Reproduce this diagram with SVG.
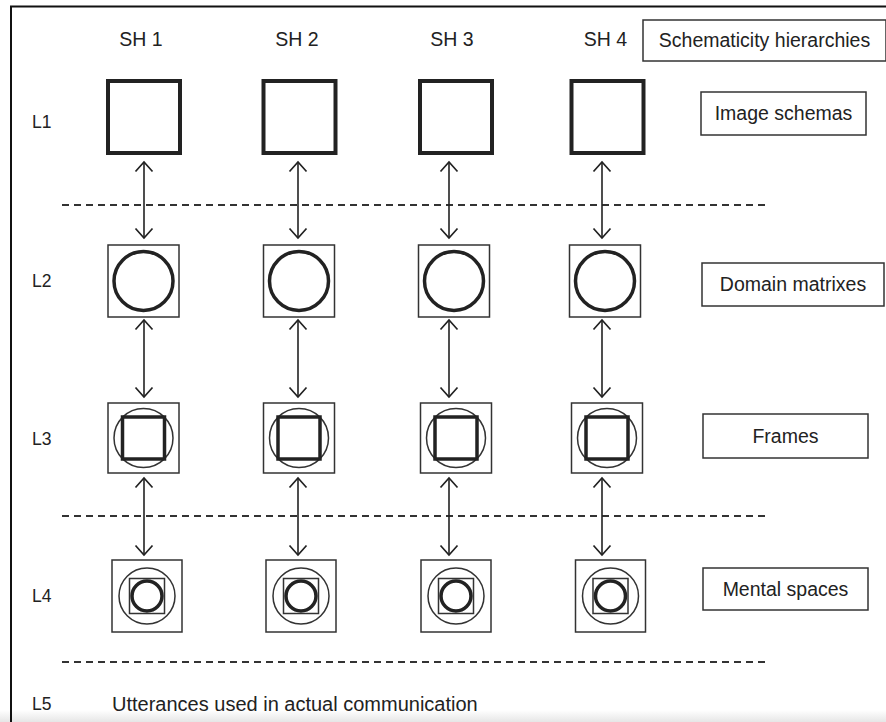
<svg xmlns="http://www.w3.org/2000/svg" width="886" height="722" viewBox="0 0 886 722">
<style>
text{font-family:"Liberation Sans",Arial,sans-serif;fill:#222}
.sh{font-size:19.5px;text-anchor:middle}
.lv{font-size:17.5px}
.lab{font-size:19.5px;text-anchor:middle}
.lbox{fill:#fff;stroke:#333;stroke-width:1.5}
.thick{fill:none;stroke:#222;stroke-width:4}
.med{fill:none;stroke:#222;stroke-width:3.5}
.thin{fill:none;stroke:#333;stroke-width:1.5}
.dash{stroke:#333;stroke-width:2;stroke-dasharray:7 5;fill:none}
.arr{stroke:#222;stroke-width:1.6;fill:none;marker-start:url(#ah);marker-end:url(#ah)}
</style>
<defs>
<marker id="ah" markerUnits="userSpaceOnUse" markerWidth="22" markerHeight="22" viewBox="-11 -11 22 22" refX="0" refY="0" orient="auto-start-reverse">
<path d="M-9.5,-8.5 L0,0 L-9.5,8.5" fill="none" stroke="#222" stroke-width="1.7"/>
</marker>
<linearGradient id="bg" x1="0" y1="0" x2="0" y2="1">
<stop offset="0" stop-color="#fff"/>
<stop offset="1" stop-color="#e6e6e6"/>
</linearGradient>
<g id="n1"><rect x="-36" y="-36" width="72" height="72" class="thick"/></g>
<g id="n2"><rect x="-35.5" y="-36" width="71" height="72" class="thin"/><circle r="29.5" class="med"/></g>
<g id="n3"><rect x="-35.5" y="-35" width="71" height="70" class="thin"/><circle r="29.5" class="thin"/><rect x="-21" y="-21" width="42" height="42" class="med"/></g>
<g id="n4"><rect x="-35" y="-36" width="70" height="72" class="thin"/><circle r="28" class="thin"/><rect x="-17.5" y="-17.5" width="35" height="35" class="thin"/><circle r="15" class="med"/></g>
</defs>
<rect x="0" y="0" width="886" height="722" fill="#fff"/>
<rect x="0" y="710" width="886" height="12" fill="url(#bg)"/>
<g id="frame"><path d="M11,722 V6.5 H886" fill="none" stroke="#111" stroke-width="2"/></g>

<g id="header">
<text class="sh" x="141" y="46">SH 1</text>
<text class="sh" x="297" y="46">SH 2</text>
<text class="sh" x="452" y="46">SH 3</text>
<text class="sh" x="605.5" y="46">SH 4</text>
</g>
<g id="schematicity"><rect x="643" y="20" width="243" height="41" class="lbox"/><text class="lab" x="764.5" y="47">Schematicity hierarchies</text></g>

<g id="levels">
<text class="lv" x="32" y="127.5">L1</text>
<text class="lv" x="32" y="287">L2</text>
<text class="lv" x="32" y="444.5">L3</text>
<text class="lv" x="32" y="602">L4</text>
<text class="lv" x="32" y="710">L5</text>
</g>
<g id="utterances"><text x="112" y="711" style="font-size:20px">Utterances used in actual communication</text></g>

<g id="image-schemas"><rect x="701" y="92" width="165" height="43" class="lbox"/><text class="lab" x="783.5" y="120">Image schemas</text></g>
<g id="domain-matrixes"><rect x="702" y="263" width="182" height="43" class="lbox"/><text class="lab" x="793" y="291">Domain matrixes</text></g>
<g id="frames"><rect x="703" y="414" width="165" height="44" class="lbox"/><text class="lab" x="785.5" y="442.5">Frames</text></g>
<g id="mental-spaces"><rect x="703" y="568" width="165" height="42" class="lbox"/><text class="lab" x="785.5" y="596">Mental spaces</text></g>

<g id="dividers">
<line x1="62" y1="205" x2="766" y2="205" class="dash"/>
<line x1="62" y1="516" x2="766" y2="516" class="dash"/>
<line x1="62" y1="662" x2="766" y2="662" class="dash"/>
</g>

<g id="sh1-l1"><use href="#n1" x="144" y="117"/></g>
<g id="sh2-l1"><use href="#n1" x="299.5" y="117"/></g>
<g id="sh3-l1"><use href="#n1" x="456" y="117"/></g>
<g id="sh4-l1"><use href="#n1" x="607.5" y="117"/></g>

<g id="sh1-l2"><use href="#n2" x="143.5" y="281"/></g>
<g id="sh2-l2"><use href="#n2" x="299" y="281"/></g>
<g id="sh3-l2"><use href="#n2" x="454" y="281"/></g>
<g id="sh4-l2"><use href="#n2" x="605" y="281"/></g>

<g id="sh1-l3"><use href="#n3" x="143.5" y="438"/></g>
<g id="sh2-l3"><use href="#n3" x="299" y="438"/></g>
<g id="sh3-l3"><use href="#n3" x="456" y="438"/></g>
<g id="sh4-l3"><use href="#n3" x="607" y="438"/></g>

<g id="sh1-l4"><use href="#n4" x="147" y="596"/></g>
<g id="sh2-l4"><use href="#n4" x="301" y="596"/></g>
<g id="sh3-l4"><use href="#n4" x="456" y="596"/></g>
<g id="sh4-l4"><use href="#n4" x="610.5" y="596"/></g>

<g id="connectors">
<line x1="144" y1="162" x2="144" y2="238" class="arr"/>
<line x1="298" y1="162" x2="298" y2="238" class="arr"/>
<line x1="449" y1="162" x2="449" y2="238" class="arr"/>
<line x1="602" y1="162" x2="602" y2="238" class="arr"/>
<line x1="144" y1="320" x2="144" y2="397" class="arr"/>
<line x1="298" y1="320" x2="298" y2="397" class="arr"/>
<line x1="449" y1="320" x2="449" y2="397" class="arr"/>
<line x1="602" y1="320" x2="602" y2="397" class="arr"/>
<line x1="144" y1="478" x2="144" y2="555" class="arr"/>
<line x1="298" y1="478" x2="298" y2="555" class="arr"/>
<line x1="449" y1="478" x2="449" y2="555" class="arr"/>
<line x1="602" y1="478" x2="602" y2="555" class="arr"/>
</g>
</svg>
